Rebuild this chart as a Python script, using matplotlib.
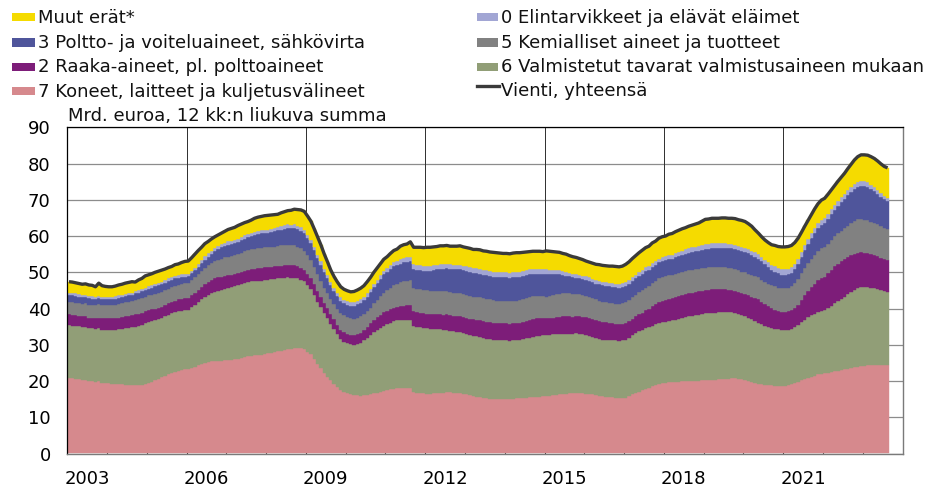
import numpy as np
import matplotlib
matplotlib.use("Agg")
import matplotlib.pyplot as plt
from matplotlib.patches import Rectangle
from matplotlib.lines import Line2D

plt.rcParams['font.family'] = ['DejaVu Sans']

# ---------------- data: monthly 12-month rolling sums, bn EUR, Jan 2003 - Aug 2023 ----------------
start_year = 2003

koneet = [  # 7 Koneet, laitteet ja kuljetusvälineet
    20.9, 20.8, 20.6, 20.5, 20.3, 20.2, 20.0, 19.9, 19.6, 19.9, 19.5, 19.4,
    19.4, 19.3, 19.2, 19.2, 19.1, 19.0, 19.0, 18.9, 18.9, 18.9, 19.0, 19.2,
    19.5, 19.8, 20.2, 20.6, 21.0, 21.4, 21.8, 22.2, 22.5, 22.8, 23.0, 23.2,
    23.3, 23.6, 24.0, 24.4, 24.8, 25.1, 25.3, 25.4, 25.5, 25.5, 25.6, 25.7,
    25.8, 25.9, 26.0, 26.2, 26.4, 26.6, 26.8, 27.0, 27.1, 27.2, 27.3, 27.5,
    27.6, 27.8, 28.0, 28.2, 28.4, 28.6, 28.8, 28.9, 29.0, 29.1, 29.0, 28.7,
    28.0, 27.4, 26.0, 24.6, 23.5, 22.2, 21.2, 20.2, 19.2, 18.3, 17.5, 17.0,
    16.6, 16.3, 16.1, 16.1, 16.0, 16.1, 16.2, 16.4, 16.6, 16.8, 17.0, 17.3,
    17.5, 17.7, 17.9, 18.0, 18.1, 18.1, 18.0, 18.0, 16.9, 16.8, 16.7, 16.6,
    16.5, 16.5, 16.6, 16.7, 16.8, 16.8, 16.9, 16.9, 16.8, 16.8, 16.7, 16.5,
    16.3, 16.1, 15.9, 15.7, 15.5, 15.3, 15.2, 15.0, 14.9, 14.9, 14.9, 15.0,
    15.0, 15.0, 15.1, 15.2, 15.2, 15.3, 15.4, 15.5, 15.6, 15.6, 15.7, 15.8,
    15.9, 16.0, 16.1, 16.2, 16.3, 16.4, 16.5, 16.6, 16.6, 16.7, 16.7, 16.6,
    16.5, 16.4, 16.3, 16.1, 15.9, 15.8, 15.7, 15.6, 15.5, 15.4, 15.3, 15.3,
    15.4, 15.8, 16.3, 16.7, 17.1, 17.5, 17.9, 18.2, 18.6, 18.9, 19.2, 19.4,
    19.5, 19.6, 19.7, 19.8, 19.8, 19.9, 19.9, 20.0, 20.0, 20.1, 20.1, 20.2,
    20.3, 20.3, 20.4, 20.4, 20.5, 20.5, 20.6, 20.6, 20.7, 20.7, 20.6, 20.5,
    20.3, 20.0, 19.8, 19.5, 19.3, 19.1, 19.0, 18.9, 18.8, 18.7, 18.7, 18.6,
    18.6, 18.8, 19.1, 19.4, 19.8, 20.2, 20.5, 20.9, 21.2, 21.5, 21.8, 22.0,
    22.1, 22.3, 22.5, 22.7, 22.9, 23.0, 23.2, 23.4, 23.6, 23.8, 24.0, 24.1,
    24.2, 24.3, 24.4, 24.4, 24.5, 24.5, 24.5, 24.5,
]

valmistetut = [  # 6 Valmistetut tavarat valmistusaineen mukaan
    14.5, 14.5, 14.6, 14.6, 14.6, 14.7, 14.7, 14.7, 14.8, 14.6, 14.7, 14.7,
    14.7, 14.8, 14.9, 15.1, 15.3, 15.5, 15.7, 15.9, 16.1, 16.3, 16.5, 16.7,
    16.8, 16.8, 16.7, 16.6, 16.5, 16.5, 16.5, 16.5, 16.5, 16.5, 16.4, 16.4,
    16.4, 16.7, 17.0, 17.3, 17.7, 18.1, 18.5, 18.8, 19.1, 19.4, 19.6, 19.8,
    20.0, 20.1, 20.2, 20.3, 20.4, 20.4, 20.5, 20.5, 20.5, 20.4, 20.4, 20.4,
    20.3, 20.3, 20.2, 20.1, 20.0, 19.9, 19.8, 19.6, 19.5, 19.3, 19.0, 18.8,
    18.4, 18.0, 17.7, 17.3, 16.9, 16.5, 16.1, 15.6, 15.1, 14.6, 14.2, 13.9,
    13.8, 13.8, 13.9, 14.2, 14.6, 15.1, 15.7, 16.3, 16.9, 17.3, 17.7, 18.0,
    18.2, 18.4, 18.6, 18.7, 18.8, 18.8, 18.9, 18.9, 18.3, 18.2, 18.1, 18.0,
    18.0, 17.9, 17.8, 17.6, 17.5, 17.3, 17.2, 17.0, 16.9, 16.8, 16.8, 16.7,
    16.7, 16.6, 16.6, 16.6, 16.6, 16.6, 16.5, 16.5, 16.4, 16.3, 16.3, 16.2,
    16.2, 16.1, 16.1, 16.1, 16.2, 16.3, 16.4, 16.5, 16.6, 16.7, 16.7, 16.8,
    16.8, 16.8, 16.8, 16.7, 16.7, 16.6, 16.5, 16.5, 16.5, 16.5, 16.4, 16.3,
    16.2, 16.0, 15.8, 15.7, 15.6, 15.6, 15.6, 15.7, 15.7, 15.8, 15.8, 15.9,
    16.0, 16.1, 16.3, 16.5, 16.6, 16.6, 16.6, 16.6, 16.7, 16.7, 16.8, 16.9,
    16.9, 17.0, 17.0, 17.1, 17.3, 17.5, 17.7, 17.9, 18.0, 18.1, 18.2, 18.3,
    18.4, 18.5, 18.5, 18.5, 18.5, 18.5, 18.5, 18.4, 18.3, 18.1, 17.9, 17.7,
    17.6, 17.4, 17.2, 17.0, 16.8, 16.5, 16.2, 16.0, 15.8, 15.7, 15.6, 15.5,
    15.5, 15.4, 15.3, 15.4, 15.6, 16.0, 16.4, 16.7, 16.9, 17.1, 17.3, 17.4,
    17.5, 17.9, 18.3, 18.8, 19.2, 19.6, 20.0, 20.5, 21.0, 21.4, 21.7, 21.8,
    21.7, 21.6, 21.4, 21.2, 20.9, 20.6, 20.3, 20.1,
]

raaka = [  # 2 Raaka-aineet, pl. polttoaineet
    3.0, 3.0, 3.0, 2.9, 2.9, 2.9, 2.8, 2.8, 2.9, 3.0, 3.1, 3.2,
    3.2, 3.2, 3.2, 3.2, 3.2, 3.3, 3.3, 3.3, 3.4, 3.4, 3.4, 3.3,
    3.3, 3.2, 3.1, 3.0, 3.0, 3.0, 3.1, 3.1, 3.2, 3.2, 3.3, 3.3,
    3.3, 3.4, 3.4, 3.5, 3.5, 3.6, 3.6, 3.7, 3.7, 3.7, 3.6, 3.5,
    3.4, 3.3, 3.3, 3.3, 3.3, 3.4, 3.4, 3.4, 3.4, 3.5, 3.5, 3.5,
    3.5, 3.4, 3.4, 3.4, 3.4, 3.4, 3.4, 3.4, 3.4, 3.3, 3.3, 3.2,
    3.2, 3.1, 3.0, 2.9, 2.8, 2.8, 2.8, 2.7, 2.7, 2.6, 2.5, 2.5,
    2.5, 2.5, 2.6, 2.6, 2.7, 2.8, 3.0, 3.2, 3.4, 3.5, 3.6, 3.7,
    3.7, 3.7, 3.7, 3.7, 3.8, 3.9, 4.0, 4.1, 4.0, 4.0, 4.0, 4.1,
    4.1, 4.1, 4.1, 4.2, 4.2, 4.2, 4.3, 4.3, 4.3, 4.3, 4.4, 4.4,
    4.4, 4.5, 4.5, 4.6, 4.6, 4.6, 4.7, 4.7, 4.8, 4.8, 4.8, 4.8,
    4.8, 4.7, 4.7, 4.6, 4.6, 4.7, 4.8, 4.9, 5.0, 5.0, 4.9, 4.8,
    4.6, 4.6, 4.6, 4.7, 4.7, 4.8, 4.8, 4.7, 4.6, 4.6, 4.7, 4.8,
    4.9, 5.0, 5.0, 5.1, 5.1, 5.0, 4.9, 4.8, 4.7, 4.6, 4.6, 4.6,
    4.6, 4.6, 4.6, 4.6, 4.7, 4.8, 5.0, 5.2, 5.4, 5.6, 5.8, 5.9,
    6.0, 6.1, 6.2, 6.3, 6.4, 6.4, 6.4, 6.4, 6.4, 6.4, 6.4, 6.4,
    6.4, 6.4, 6.4, 6.4, 6.3, 6.3, 6.2, 6.2, 6.1, 6.1, 6.0, 6.0,
    6.1, 6.2, 6.3, 6.4, 6.4, 6.3, 6.0, 5.7, 5.5, 5.3, 5.1, 5.0,
    5.0, 5.0, 5.1, 5.3, 5.7, 6.2, 6.8, 7.3, 7.8, 8.3, 8.7, 9.0,
    9.2, 9.5, 9.8, 10.1, 10.3, 10.4, 10.4, 10.3, 10.1, 9.9, 9.7, 9.6,
    9.4, 9.3, 9.2, 9.1, 9.0, 8.9, 8.8, 8.8,
]

kemialliset = [  # 5 Kemialliset aineet ja tuotteet
    3.3, 3.4, 3.4, 3.5, 3.5, 3.6, 3.6, 3.7, 3.7, 3.7, 3.7, 3.7,
    3.7, 3.7, 3.8, 3.8, 3.8, 3.9, 3.9, 3.9, 4.0, 4.0, 4.0, 4.0,
    4.0, 4.0, 4.1, 4.1, 4.1, 4.1, 4.1, 4.1, 4.1, 4.1, 4.1, 4.1,
    4.1, 4.2, 4.2, 4.3, 4.4, 4.5, 4.6, 4.7, 4.8, 4.9, 5.0, 5.1,
    5.1, 5.2, 5.2, 5.3, 5.3, 5.4, 5.4, 5.4, 5.5, 5.5, 5.5, 5.5,
    5.5, 5.5, 5.5, 5.6, 5.6, 5.6, 5.6, 5.5, 5.5, 5.4, 5.3, 5.2,
    5.1, 4.9, 4.7, 4.6, 4.5, 4.3, 4.2, 4.1, 4.2, 4.4, 4.6, 4.8,
    4.8, 4.7, 4.6, 4.6, 4.5, 4.4, 4.3, 4.3, 4.5, 4.8, 5.1, 5.4,
    5.7, 6.0, 6.2, 6.4, 6.6, 6.8, 6.8, 6.8, 6.6, 6.5, 6.5, 6.4,
    6.4, 6.4, 6.4, 6.4, 6.4, 6.4, 6.3, 6.3, 6.3, 6.3, 6.3, 6.3,
    6.3, 6.3, 6.3, 6.4, 6.4, 6.3, 6.3, 6.3, 6.2, 6.2, 6.2, 6.2,
    6.2, 6.2, 6.3, 6.3, 6.3, 6.3, 6.3, 6.2, 6.2, 6.1, 6.1, 6.0,
    6.0, 6.1, 6.2, 6.3, 6.4, 6.4, 6.4, 6.4, 6.3, 6.2, 6.1, 6.0,
    5.9, 5.8, 5.7, 5.6, 5.6, 5.5, 5.5, 5.5, 5.5, 5.5, 5.5, 5.6,
    5.7, 5.8, 5.9, 6.0, 6.1, 6.2, 6.3, 6.3, 6.4, 6.4, 6.5, 6.5,
    6.5, 6.5, 6.4, 6.4, 6.4, 6.3, 6.3, 6.3, 6.3, 6.2, 6.2, 6.2,
    6.2, 6.2, 6.2, 6.2, 6.1, 6.1, 6.1, 6.0, 6.0, 6.0, 6.0, 6.0,
    6.0, 6.0, 6.0, 6.0, 6.1, 6.1, 6.2, 6.2, 6.3, 6.4, 6.4, 6.5,
    6.5, 6.6, 6.7, 6.9, 7.1, 7.3, 7.5, 7.7, 7.9, 8.0, 8.1, 8.2,
    8.2, 8.2, 8.3, 8.3, 8.3, 8.4, 8.5, 8.7, 8.9, 9.1, 9.2, 9.2,
    9.2, 9.1, 9.0, 8.9, 8.8, 8.7, 8.6, 8.6,
]

poltto = [  # 3 Poltto- ja voiteluaineet, sähkövirta
    2.0, 1.9, 1.9, 1.8, 1.8, 1.7, 1.7, 1.6, 1.6, 1.6, 1.6, 1.6,
    1.6, 1.6, 1.6, 1.7, 1.7, 1.7, 1.7, 1.8, 1.8, 1.8, 1.8, 1.9,
    1.9, 2.0, 2.0, 2.1, 2.1, 2.1, 2.1, 2.0, 2.0, 1.9, 1.9, 1.8,
    1.8, 1.8, 1.9, 2.0, 2.1, 2.2, 2.3, 2.5, 2.7, 2.9, 3.1, 3.2,
    3.3, 3.3, 3.3, 3.3, 3.4, 3.5, 3.6, 3.7, 3.8, 3.9, 4.0, 4.0,
    4.0, 4.1, 4.2, 4.3, 4.4, 4.5, 4.6, 4.7, 4.8, 4.8, 4.8, 4.8,
    4.7, 4.7, 4.7, 4.6, 4.4, 4.2, 4.0, 3.8, 3.6, 3.5, 3.4, 3.3,
    3.4, 3.5, 3.6, 3.7, 3.8, 3.9, 4.1, 4.3, 4.5, 4.7, 4.8, 5.0,
    5.1, 5.2, 5.2, 5.1, 5.1, 5.1, 5.1, 5.2, 5.2, 5.2, 5.3, 5.3,
    5.3, 5.5, 5.7, 5.9, 6.1, 6.3, 6.4, 6.5, 6.6, 6.6, 6.6, 6.6,
    6.6, 6.6, 6.5, 6.5, 6.5, 6.5, 6.5, 6.5, 6.5, 6.5, 6.5, 6.5,
    6.5, 6.5, 6.4, 6.4, 6.4, 6.3, 6.3, 6.3, 6.2, 6.2, 6.2, 6.1,
    6.1, 5.9, 5.7, 5.5, 5.3, 5.1, 4.9, 4.7, 4.6, 4.5, 4.4, 4.4,
    4.4, 4.4, 4.4, 4.4, 4.5, 4.5, 4.5, 4.5, 4.6, 4.6, 4.6, 4.6,
    4.6, 4.6, 4.6, 4.5, 4.5, 4.5, 4.5, 4.4, 4.4, 4.4, 4.4, 4.4,
    4.4, 4.5, 4.5, 4.6, 4.6, 4.7, 4.8, 4.8, 4.9, 5.0, 5.0, 5.1,
    5.1, 5.1, 5.2, 5.2, 5.3, 5.3, 5.4, 5.4, 5.5, 5.5, 5.6, 5.6,
    5.6, 5.6, 5.5, 5.4, 5.2, 5.0, 4.8, 4.6, 4.3, 4.1, 3.9, 3.7,
    3.6, 3.6, 3.7, 3.9, 4.2, 4.6, 5.0, 5.3, 5.6, 5.9, 6.2, 6.4,
    6.5, 6.8, 7.1, 7.4, 7.7, 8.0, 8.2, 8.4, 8.6, 8.8, 9.0, 9.1,
    9.2, 9.1, 8.9, 8.7, 8.4, 8.1, 7.9, 7.7,
]

elintarvikkeet = [  # 0 Elintarvikkeet ja elävät eläimet
    0.7, 0.7, 0.7, 0.7, 0.7, 0.7, 0.7, 0.7, 0.7, 0.7, 0.7, 0.7,
    0.7, 0.7, 0.7, 0.7, 0.7, 0.7, 0.6, 0.6, 0.6, 0.6, 0.6, 0.6,
    0.6, 0.6, 0.6, 0.6, 0.7, 0.7, 0.7, 0.7, 0.7, 0.7, 0.7, 0.7,
    0.7, 0.7, 0.8, 0.8, 0.8, 0.9, 0.9, 0.9, 0.9, 0.9, 0.9, 0.9,
    0.9, 0.9, 0.9, 0.9, 0.9, 0.9, 0.9, 0.9, 0.9, 0.9, 0.9, 0.9,
    0.9, 0.9, 0.9, 0.9, 1.0, 1.0, 1.0, 1.0, 1.0, 1.0, 1.0, 1.0,
    0.9, 0.9, 0.9, 0.9, 0.9, 0.9, 0.9, 0.9, 0.9, 0.9, 0.9, 0.9,
    0.9, 0.9, 0.9, 0.9, 0.9, 0.9, 0.9, 0.9, 0.9, 0.9, 1.0, 1.0,
    1.1, 1.1, 1.2, 1.2, 1.3, 1.3, 1.3, 1.3, 1.3, 1.3, 1.3, 1.3,
    1.3, 1.3, 1.3, 1.3, 1.3, 1.2, 1.2, 1.2, 1.2, 1.2, 1.3, 1.3,
    1.3, 1.3, 1.3, 1.3, 1.4, 1.4, 1.4, 1.4, 1.4, 1.4, 1.4, 1.4,
    1.4, 1.4, 1.4, 1.4, 1.4, 1.4, 1.4, 1.4, 1.4, 1.4, 1.4, 1.4,
    1.4, 1.3, 1.3, 1.2, 1.2, 1.1, 1.1, 1.0, 1.0, 1.0, 1.0, 1.0,
    1.0, 1.0, 1.0, 1.0, 1.0, 1.0, 1.0, 1.0, 1.0, 1.0, 1.0, 1.0,
    1.0, 1.0, 1.0, 1.0, 1.1, 1.1, 1.1, 1.1, 1.1, 1.1, 1.1, 1.1,
    1.1, 1.1, 1.1, 1.1, 1.2, 1.2, 1.2, 1.2, 1.3, 1.3, 1.3, 1.3,
    1.4, 1.4, 1.4, 1.4, 1.4, 1.4, 1.3, 1.3, 1.2, 1.2, 1.1, 1.1,
    1.1, 1.1, 1.2, 1.2, 1.2, 1.3, 1.3, 1.4, 1.4, 1.5, 1.5, 1.6,
    1.6, 1.6, 1.5, 1.5, 1.4, 1.3, 1.3, 1.3, 1.3, 1.4, 1.4, 1.4,
    1.4, 1.4, 1.4, 1.4, 1.4, 1.4, 1.4, 1.4, 1.4, 1.4, 1.4, 1.4,
    1.4, 1.4, 1.3, 1.2, 1.1, 1.0, 0.9, 0.9,
]

muut = [  # Muut erät*
    3.0, 3.0, 2.9, 2.9, 2.9, 3.0, 3.0, 3.0, 2.7, 3.5, 3.0, 2.8,
    2.7, 2.7, 2.8, 2.8, 2.9, 2.9, 3.0, 3.0, 2.5, 2.9, 3.0, 3.3,
    3.2, 3.2, 3.3, 3.3, 3.2, 3.1, 3.0, 3.0, 3.1, 3.1, 3.3, 3.5,
    3.5, 3.6, 3.7, 3.7, 3.6, 3.5, 3.3, 3.2, 3.1, 3.0, 3.0, 3.1,
    3.3, 3.4, 3.5, 3.6, 3.6, 3.5, 3.4, 3.5, 3.7, 3.8, 3.8, 3.8,
    3.9, 3.8, 3.7, 3.5, 3.6, 3.7, 3.8, 4.0, 4.2, 4.4, 4.8, 5.1,
    5.2, 5.1, 5.0, 4.9, 4.6, 4.2, 3.7, 3.3, 3.1, 3.0, 2.9, 2.9,
    2.9, 2.9, 3.0, 3.0, 3.1, 3.1, 3.2, 3.2, 3.2, 3.2, 3.2, 3.2,
    3.0, 3.1, 3.2, 3.3, 3.5, 3.6, 3.7, 4.1, 4.6, 4.9, 5.0, 5.1,
    5.3, 5.2, 5.1, 5.0, 5.0, 5.1, 5.1, 5.0, 5.1, 5.2, 5.2, 5.2,
    5.2, 5.2, 5.2, 5.2, 5.2, 5.2, 5.2, 5.2, 5.3, 5.3, 5.2, 5.1,
    5.1, 5.2, 5.3, 5.4, 5.3, 5.2, 5.0, 4.9, 4.8, 4.8, 4.8, 4.8,
    5.1, 5.1, 5.0, 5.0, 4.9, 4.8, 4.8, 4.7, 4.7, 4.6, 4.5, 4.4,
    4.2, 4.2, 4.3, 4.3, 4.4, 4.5, 4.6, 4.6, 4.7, 4.7, 4.7, 4.7,
    4.9, 5.0, 5.1, 5.3, 5.3, 5.4, 5.4, 5.4, 5.5, 5.5, 5.6, 5.6,
    5.6, 5.7, 5.8, 5.9, 5.9, 6.0, 6.0, 6.1, 6.1, 6.2, 6.4, 6.6,
    6.8, 6.8, 6.8, 6.8, 6.8, 6.9, 6.9, 7.0, 7.1, 7.2, 7.3, 7.4,
    7.3, 7.1, 6.7, 6.2, 5.8, 5.5, 5.4, 5.4, 5.5, 5.7, 5.9, 6.1,
    6.2, 6.1, 6.0, 5.8, 5.6, 5.4, 5.2, 5.1, 5.2, 5.3, 5.4, 5.5,
    5.5, 5.4, 5.3, 5.2, 5.3, 5.4, 5.6, 5.9, 6.2, 6.6, 6.9, 7.2,
    7.3, 7.5, 7.7, 7.9, 8.0, 8.1, 8.2, 8.2,
]

year_labels = ['2003', '2006', '2009', '2012', '2015', '2018', '2021']
y_ticks = [0, 10, 20, 30, 40, 50, 60, 70, 80, 90]

lbl_koneet = '7 Koneet, laitteet ja kuljetusvälineet'
lbl_valm = '6 Valmistetut tavarat valmistusaineen mukaan'
lbl_raaka = '2 Raaka-aineet, pl. polttoaineet'
lbl_kem = '5 Kemialliset aineet ja tuotteet'
lbl_polt = '3 Poltto- ja voiteluaineet, sähkövirta'
lbl_elin = '0 Elintarvikkeet ja elävät eläimet'
lbl_muut = 'Muut erät*'
lbl_total = 'Vienti, yhteensä'
subtitle = 'Mrd. euroa, 12 kk:n liukuva summa'

# colours
c_koneet = '#D6898D'
c_valm = '#919E77'
c_raaka = '#7D1D79'
c_kem = '#818181'
c_polt = '#4F559B'
c_elin = '#A2A6D4'
c_muut = '#F5DB00'
c_total = '#3A3A3A'

layers = [
    (koneet, c_koneet),
    (valmistetut, c_valm),
    (raaka, c_raaka),
    (kemialliset, c_kem),
    (poltto, c_polt),
    (elintarvikkeet, c_elin),
    (muut, c_muut),
]

# ---------------- figure ----------------
W, H = 934, 490
fig = plt.figure(figsize=(W / 100, H / 100), dpi=100)
ax = fig.add_axes([67.3 / W, 1 - 453.5 / H, (902.5 - 67.3) / W, (453.5 - 127.3) / H])

n = len(koneet)
x = start_year + np.arange(n) / 12.0
xe = np.append(x, x[-1] + 1 / 12.0)
bottom = np.zeros(n)
for vals, col in layers:
    v = np.asarray(vals, dtype=float)
    top = bottom + v
    ax.fill_between(xe, np.append(bottom, bottom[-1]), np.append(top, top[-1]),
                    step='post', facecolor=col, edgecolor=col, linewidth=0.3, zorder=2)
    bottom = top

ax.plot(x + 1 / 24.0, bottom, color=c_total, lw=2.4, zorder=4,
        solid_joinstyle='round', solid_capstyle='butt')

ax.set_xlim(2003, 2024)
ax.set_ylim(0, 90)

# horizontal grid
ax.set_yticks(y_ticks)
ax.yaxis.grid(True, color='#8C8C8C', lw=0.9, zorder=0)
ax.set_axisbelow(True)
# vertical grid every 3 years
for yr in range(2006, 2024, 3):
    ax.axvline(yr, color='#2E2E2E', lw=0.7, zorder=1)

ax.set_xticks([int(s) + 0.5 for s in year_labels])
ax.set_xticklabels(year_labels)
ax.set_xticks(np.arange(2004, 2024), minor=True)
ax.tick_params(axis='x', which='major', length=0, pad=12, labelsize=13)
ax.tick_params(axis='x', which='minor', direction='in', length=3.5, width=0.8,
               color='#404040')
ax.tick_params(axis='y', length=0, pad=12, labelsize=13)

for s in ['top', 'left']:
    ax.spines[s].set_color('#000000')
    ax.spines[s].set_linewidth(0.9)
for s in ['bottom', 'right']:
    ax.spines[s].set_color('#7A7A7A')
    ax.spines[s].set_linewidth(1.0)
for s in ax.spines.values():
    s.set_zorder(5)

# ---------------- legend (two columns, drawn in figure pixels) ----------------
def fx(px):
    return px / W

def fy(py):
    return 1 - py / H

fs = 13
left_entries = [(lbl_muut, c_muut), (lbl_polt, c_polt), (lbl_raaka, c_raaka), (lbl_koneet, c_koneet)]
right_entries = [(lbl_elin, c_elin), (lbl_kem, c_kem), (lbl_valm, c_valm)]
row_c = [16.8, 42.5, 67.0, 91.0]
row_base = [23.3, 48.0, 72.5, 96.7]

for i, (lab, col) in enumerate(left_entries):
    fig.patches.append(Rectangle((fx(12), fy(row_c[i] + 4.2)), fx(23), 8.4 / H,
                                 transform=fig.transFigure, facecolor=col, edgecolor='none'))
    fig.text(fx(38.5), fy(row_base[i]), lab, fontsize=fs, va='baseline', ha='left', color='#111111')

for i, (lab, col) in enumerate(right_entries):
    fig.patches.append(Rectangle((fx(477), fy(row_c[i] + 4.2)), fx(21.5), 8.4 / H,
                                 transform=fig.transFigure, facecolor=col, edgecolor='none'))
    fig.text(fx(500.5), fy(row_base[i]), lab, fontsize=fs, va='baseline', ha='left', color='#111111')

fig.lines.append(Line2D([fx(477), fx(498.5)], [fy(86.5), fy(86.5)], transform=fig.transFigure,
                        color=c_total, lw=2.4))
fig.text(fx(500.5), fy(95.5), lbl_total, fontsize=fs, va='baseline', ha='left', color='#111111')

fig.text(fx(68), fy(120.7), subtitle, fontsize=fs, va='baseline', ha='left', color='#111111')

fig.savefig('out.png', dpi=100)
